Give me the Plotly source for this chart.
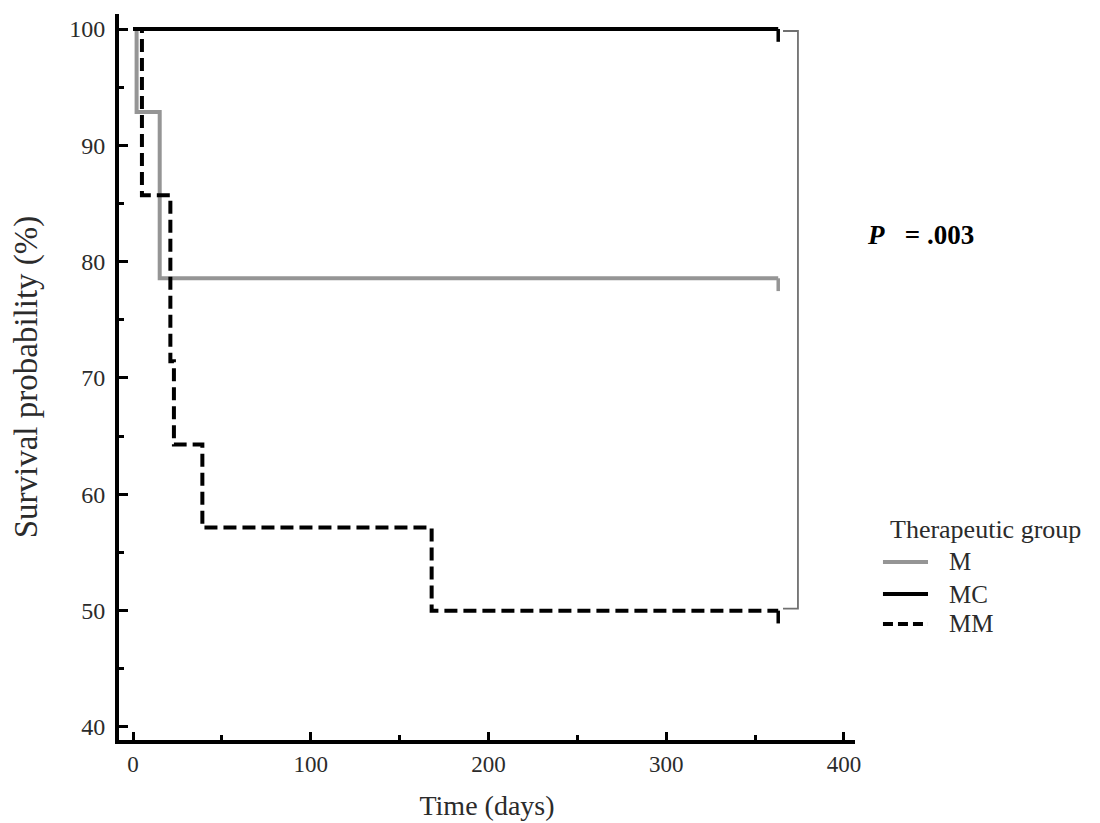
import plotly.graph_objects as go

# Kaplan-Meier step data (days, survival %)
m_days = [0, 2, 15, 363]
m_surv = [100, 92.86, 78.57, 78.57]
mc_days = [0, 363]
mc_surv = [100, 100]
mm_days = [0, 5, 21, 23, 39, 168, 363]
mm_surv = [100, 85.71, 71.43, 64.29, 57.14, 50.0, 50.0]

groups = ["M", "MC", "MM"]
legend_title = "Therapeutic group"
p_text = "<b><i>P</i>\u00a0\u00a0\u00a0= .003</b>"

end_tick = 1.1
FONT = "Liberation Serif"
TXT = "#2b2b2b"

styles = {
    "M": dict(color="#959595", width=4, dash="solid"),
    "MC": dict(color="black", width=4, dash="solid"),
    "MM": dict(color="black", width=4, dash="13px,6px"),
}
data = {"M": (m_days, m_surv), "MC": (mc_days, mc_surv), "MM": (mm_days, mm_surv)}

fig = go.Figure()
for name in groups:
    d, s = data[name]
    fig.add_trace(go.Scatter(x=d, y=s, mode="lines", name=name, showlegend=False,
                             line=dict(shape="hv", **styles[name])))
# end-of-follow-up ticks
for name in groups:
    d, s = data[name]
    fig.add_trace(go.Scatter(x=[d[-1], d[-1]], y=[s[-1], s[-1] - end_tick], mode="lines",
                             showlegend=False, hoverinfo="skip",
                             line=dict(color=styles[name]["color"], width=3.5)))

# bracket linking the curves
fig.add_shape(type="path", xref="x", yref="y",
              path="M 365.7 99.83 L 374.1 99.83 L 374.1 50.17 L 365.7 50.17",
              line=dict(color="#707070", width=1.8))

fig.add_annotation(x=1.0136, y=0.6956, xref="paper", yref="paper",
                   xanchor="left", yanchor="middle", showarrow=False,
                   text=p_text, font=dict(family=FONT, size=27, color="black"))

# manual legend
fig.add_annotation(x=1.0448, y=0.2893, xref="paper", yref="paper",
                   xanchor="left", yanchor="middle", showarrow=False,
                   text=legend_title, font=dict(family=FONT, size=26, color=TXT))
leg_y = [0.2452, 0.2011, 0.1598]
for name, ly in zip(groups, leg_y):
    st = dict(styles[name])
    if name == "MM":
        st["dash"] = "10px,5px"
    fig.add_shape(type="line", xref="paper", yref="paper",
                  x0=1.038, x1=1.0992, y0=ly, y1=ly, line=st)
    fig.add_annotation(x=1.125, y=ly, xref="paper", yref="paper",
                       xanchor="left", yanchor="middle", showarrow=False,
                       text=name, font=dict(family=FONT, size=25, color=TXT))

fig.update_layout(
    width=1092, height=815,
    margin=dict(l=111, r=245, t=6, b=83),
    plot_bgcolor="white", paper_bgcolor="white",
    font=dict(family=FONT, size=23, color=TXT),
    showlegend=False,
)
fig.update_xaxes(range=[-7.9, 406.2], showgrid=False, zeroline=False, automargin=False,
                 showline=True, linewidth=4, linecolor="black",
                 ticks="inside", ticklen=8, tickwidth=3, tickcolor="black",
                 dtick=100, tick0=0, ticklabelstandoff=0,
                 tickfont=dict(family=FONT, size=23, color=TXT),
                 minor=dict(dtick=50, ticks="inside", ticklen=5, tickwidth=3, tickcolor="black"),
                 title=dict(text="Time (days)", font=dict(family=FONT, size=28, color=TXT), standoff=21))
fig.update_yaxes(range=[38.88, 101.29], showgrid=False, zeroline=False, automargin=False,
                 showline=True, linewidth=4, linecolor="black",
                 ticks="inside", ticklen=9, tickwidth=3, tickcolor="black",
                 dtick=10, tick0=0, ticklabelstandoff=5,
                 tickfont=dict(family=FONT, size=24, color=TXT),
                 minor=dict(dtick=5, ticks="inside", ticklen=5, tickwidth=3, tickcolor="black"),
                 title=dict(text="Survival probability (%)", font=dict(family=FONT, size=33, color=TXT), standoff=25))

fig.write_html("out.html")
